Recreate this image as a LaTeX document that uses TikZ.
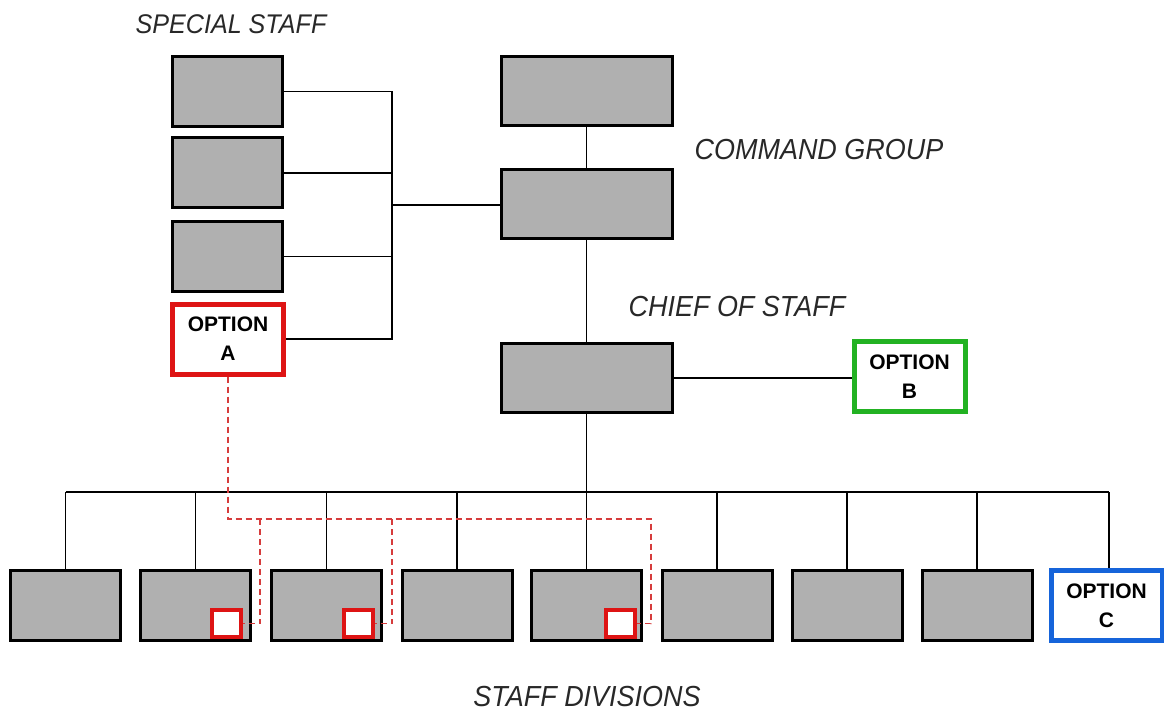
\documentclass[tikz,border=0pt]{standalone}
\usepackage{fontspec}
\setmainfont{Liberation Sans}
\newfontfamily\lblfont[FakeStretch=0.93]{Liberation Sans}
\definecolor{boxgray}{RGB}{176,176,176}
\definecolor{optred}{RGB}{222,20,20}
\definecolor{optgreen}{RGB}{34,178,34}
\definecolor{optblue}{RGB}{22,100,218}
\definecolor{dashred}{RGB}{214,60,60}
\definecolor{lblgray}{RGB}{40,40,40}
\tikzset{
  unit/.style={draw=black, fill=boxgray, line width=3pt, minimum width=110pt, minimum height=70pt, inner sep=0pt},
  wideunit/.style={unit, minimum width=171pt, minimum height=69pt},
  optbox/.style={draw=#1, fill=white, line width=5pt, minimum width=111pt, minimum height=70pt, inner sep=0pt, align=center,
    font=\bfseries\fontsize{21}{29}\selectfont},
  subbox/.style={draw=optred, fill=white, line width=4pt, minimum width=29pt, minimum height=27pt, inner sep=0pt},
  link/.style={draw=black, line width=1.3pt},
  ownlink/.style={draw=dashred, line width=1.6pt, dash pattern=on 6pt off 4pt},
  grouplabel/.style={font=\lblfont\itshape\fontsize{29}{32}\selectfont, text=lblgray, inner sep=0pt}
}
\begin{document}
\begin{tikzpicture}[x=1pt,y=-1pt]
\useasboundingbox (0,0) rectangle (1164,711);

% group labels
\node[grouplabel, font=\lblfont\itshape\fontsize{27}{30}\selectfont] (lspecial) at (231,24) {SPECIAL STAFF};
\node[grouplabel] (lcommand) at (819,150) {COMMAND GROUP};
\node[grouplabel] (lchief) at (737,307) {CHIEF OF STAFF};
\node[grouplabel] (ldivs) at (587,697) {STAFF DIVISIONS};

% special staff column
\node[unit] (ss1) at (227,91.5) {};
\node[unit] (ss2) at (227,173) {};
\node[unit] (ss3) at (227,256.5) {};
\node[optbox=optred] (optA) at (228,339) {OPTION\\A};

% command group and chief of staff
\node[wideunit] (cg1) at (586.5,91) {};
\node[wideunit] (cg2) at (586.5,204) {};
\node[wideunit] (cos) at (586.5,378) {};
\node[optbox=optgreen] (optB) at (909.5,376.5) {OPTION\\B};

% staff divisions
\foreach \i/\x in {1/65.5,2/195.5,3/326.5,4/457,5/586.5,6/717,7/847,8/977}
  \node[unit] (d\i) at (\x,605.5) {};
\node[optbox=optblue] (optC) at (1106.5,605.5) {OPTION\\C};

% embedded special-staff cells
\node[subbox] (sa) at (226.5,623.5) {};
\node[subbox] (sb) at (358.5,623.5) {};
\node[subbox] (sc) at (620,623.5) {};

% special staff bracket
\coordinate (br1) at (392,91.5);
\coordinate (br2) at (392,339);
\coordinate (brm) at (392,205);
\draw[link] (ss1.east) -- (br1) -- (br2) -- (optA.east);
\draw[link] (ss2.east) -- (ss2.east -| br1);
\draw[link] (ss3.east) -- (ss3.east -| br1);
\draw[link] (brm) -- (brm -| cg2.west);

% command chain
\draw[link] (cg1.south) -- (cg2.north);
\draw[link] (cg2.south) -- (cos.north);
\draw[link] (cos.east) -- (cos.east -| optB.west);

% division bus
\coordinate (busL) at (65.5,492);
\coordinate (busR) at (1109,492);
\draw[link] (cos.south) -- (cos.south |- busL);
\draw[link] (busL) -- (busR);
\foreach \i in {1,...,8}
  \draw[link] (d\i.north) -- (d\i.north |- busL);
\draw[link] (busR) -- (busR |- optC.north);

% dashed option A links
\coordinate (j0) at (228,519);
\coordinate (j1) at (260,519);
\coordinate (j2) at (392,519);
\coordinate (j3) at (651,519);
\draw[ownlink] (optA.south) -- (j0) -- (j3) |- (sc.east);
\draw[ownlink] (j1) |- (sa.east);
\draw[ownlink] (j2) |- (sb.east);
\end{tikzpicture}
\end{document}
